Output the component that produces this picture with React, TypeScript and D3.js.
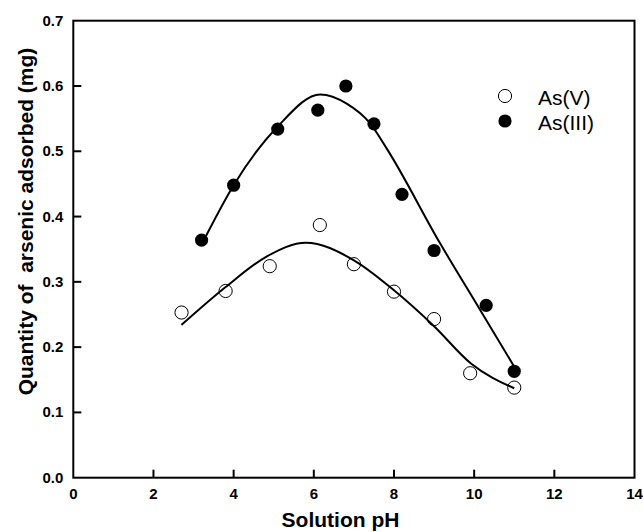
import React from "react";
import * as d3 from "d3";

const asIIIx = [3.2, 4.0, 5.1, 6.1, 6.8, 7.5, 8.2, 9.0, 10.3, 11.0];
const asIIIy = [0.364, 0.448, 0.534, 0.563, 0.600, 0.542, 0.434, 0.348, 0.264, 0.163];
const asVx = [2.7, 3.8, 4.9, 6.15, 7.0, 8.0, 9.0, 9.9, 11.0];
const asVy = [0.253, 0.286, 0.324, 0.387, 0.327, 0.285, 0.243, 0.160, 0.138];

const fitIIIx = [3.3, 4.0, 5.1, 6.16, 6.82, 7.4, 7.82, 9.15, 10.15, 11.0];
const fitIIIy = [0.369, 0.448, 0.538, 0.587, 0.573, 0.543, 0.504, 0.359, 0.257, 0.170];
const fitVx = [2.7, 3.8, 4.8, 5.8, 7.0, 8.0, 9.0, 9.92, 11.0];
const fitVy = [0.234, 0.292, 0.338, 0.360, 0.333, 0.287, 0.232, 0.175, 0.137];

const xTicks = [0, 2, 4, 6, 8, 10, 12, 14];
const yTicks = [0.0, 0.1, 0.2, 0.3, 0.4, 0.5, 0.6, 0.7];
const legendLabels = ["As(V)", "As(III)"];

export default function App() {
  const W = 643, H = 532;
  const x = d3.scaleLinear().domain([0, 14]).range([73.3, 634.5]);
  const y = d3.scaleLinear().domain([0, 0.7]).range([477.7, 20.7]);
  const line = d3.line<[number, number]>().x(d => x(d[0])).y(d => y(d[1])).curve(d3.curveMonotoneX);
  const fIII = fitIIIx.map((v, i) => [v, fitIIIy[i]] as [number, number]);
  const fV = fitVx.map((v, i) => [v, fitVy[i]] as [number, number]);
  const font = "'Liberation Sans', Arial, sans-serif";
  return (
    <svg width={W} height={H} style={{ position: "absolute", left: 0, top: 0, background: "#fff" }}>
      <rect x={0} y={0} width={W} height={H} fill="#fff" />
      <path d={line(fIII) || ""} fill="none" stroke="#000" strokeWidth={2} />
      <path d={line(fV) || ""} fill="none" stroke="#000" strokeWidth={2} />
      {asVx.map((v, i) => (
        <circle key={"v" + i} cx={x(v)} cy={y(asVy[i])} r={6.6} fill="none" stroke="#000" strokeWidth={1} />
      ))}
      {asIIIx.map((v, i) => (
        <circle key={"t" + i} cx={x(v)} cy={y(asIIIy[i])} r={6.6} fill="#000" />
      ))}
      <rect x={x(0)} y={y(0.7)} width={x(14) - x(0)} height={y(0) - y(0.7)} fill="none" stroke="#000" strokeWidth={2} />
      {xTicks.map(t => (
        <g key={"xt" + t}>
          {t > 0 && t < 14 && <line x1={x(t)} x2={x(t)} y1={y(0)} y2={y(0) - 8} stroke="#000" strokeWidth={2} />}
          <text x={x(t)} y={y(0) + 21.5} textAnchor="middle" fontFamily={font} fontWeight="bold" fontSize={15}>{t}</text>
        </g>
      ))}
      {yTicks.map(t => (
        <g key={"yt" + t}>
          {t > 0 && t < 0.7 && <line x1={x(0)} x2={x(0) + 8} y1={y(t)} y2={y(t)} stroke="#000" strokeWidth={2} />}
          <text x={x(0) - 10} y={y(t) + 5} textAnchor="end" fontFamily={font} fontWeight="bold" fontSize={15}>{t.toFixed(1)}</text>
        </g>
      ))}
      <text x={340.5} y={526.5} textAnchor="middle" fontFamily={font} fontWeight="bold" fontSize={21}>Solution pH</text>
      <text transform={`translate(33,221.5) rotate(-90)`} textAnchor="middle" fontFamily={font} fontWeight="bold" fontSize={21} style={{ whiteSpace: "pre" }}>Quantity of  arsenic adsorbed (mg)</text>
      {legendLabels.map((l, i) => (
        <g key={l}>
          {i === 0
            ? <circle cx={505} cy={96} r={6.6} fill="none" stroke="#000" strokeWidth={1} />
            : <circle cx={505} cy={121} r={6.6} fill="#000" />}
          <text x={538} y={96 + i * 25 + 8.5} fontFamily={font} fontSize={21}>{l}</text>
        </g>
      ))}
    </svg>
  );
}
